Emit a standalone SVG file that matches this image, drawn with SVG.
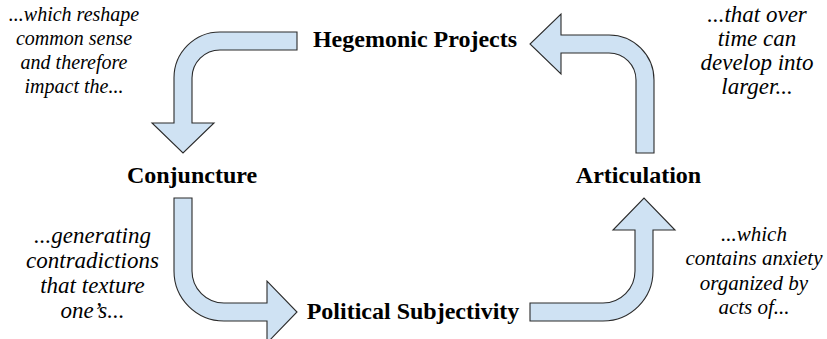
<svg xmlns="http://www.w3.org/2000/svg" width="827" height="339" viewBox="0 0 827 339">
<style>
.arrow{fill:#cfe2f3;stroke:#2b2b2b;stroke-width:1.1;stroke-linejoin:miter}
.node{font-family:'Liberation Serif','DejaVu Serif',serif;font-weight:bold;font-size:24px;fill:#000;text-anchor:middle}
.note{font-family:'Liberation Serif','DejaVu Serif',serif;font-style:italic;font-size:20px;fill:#000;text-anchor:middle}
.big{font-size:23px}
.mid{font-size:21px}
</style>
<rect width="827" height="339" fill="#fff"/>
<g id="connectors">
<path class="arrow" d="M297,32 L220,32 A46,46 0 0 0 174,78 L174,123 L152,123 L183,153 L214,123 L192,123 L192,78 A28,28 0 0 1 220,50 L297,50 Z"/>
<path class="arrow" d="M174,198 L174,271 A50,50 0 0 0 224,321 L267,321 L267,343 L297,312 L267,281 L267,303 L224,303 A32,32 0 0 1 192,271 L192,198 Z"/>
<path class="arrow" d="M530,303 L603,303 A32,32 0 0 0 635,271 L635,230 L613,230 L644,198 L675,230 L653,230 L653,271 A50,50 0 0 1 603,321 L530,321 Z"/>
<path class="arrow" d="M636,153 L636,80 A27,27 0 0 0 609,53 L561,53 L561,74 L530,44 L561,14 L561,35 L609,35 A45,45 0 0 1 654,80 L654,153 Z"/>
</g>
<g id="hegemonic-projects"><text class="node" x="415" y="47">Hegemonic Projects</text></g>
<g id="conjuncture"><text class="node" x="192" y="183">Conjuncture</text></g>
<g id="articulation"><text class="node" x="638.5" y="183">Articulation</text></g>
<g id="political-subjectivity"><text class="node" x="413" y="319">Political Subjectivity</text></g>
<g id="note-top-left"><text class="note" x="74" y="21"><tspan x="74">...which reshape</tspan><tspan x="74" dy="24">common sense</tspan><tspan x="74" dy="24">and therefore</tspan><tspan x="74" dy="24">impact the...</tspan></text></g>
<g id="note-top-right"><text class="note big" x="757" y="22"><tspan x="757">...that over</tspan><tspan x="757" dy="24">time can</tspan><tspan x="757" dy="24">develop into</tspan><tspan x="757" dy="24">larger...</tspan></text></g>
<g id="note-bottom-left"><text class="note big" x="92.5" y="243"><tspan x="92.5">...generating</tspan><tspan x="92.5" dy="25">contradictions</tspan><tspan x="92.5" dy="25">that texture</tspan><tspan x="92.5" dy="25">one’s...</tspan></text></g>
<g id="note-bottom-right"><text class="note mid" x="754" y="241"><tspan x="754">...which</tspan><tspan x="754" dy="24.3">contains anxiety</tspan><tspan x="754" dy="24.3">organized by</tspan><tspan x="754" dy="24.3">acts of...</tspan></text></g>
</svg>
